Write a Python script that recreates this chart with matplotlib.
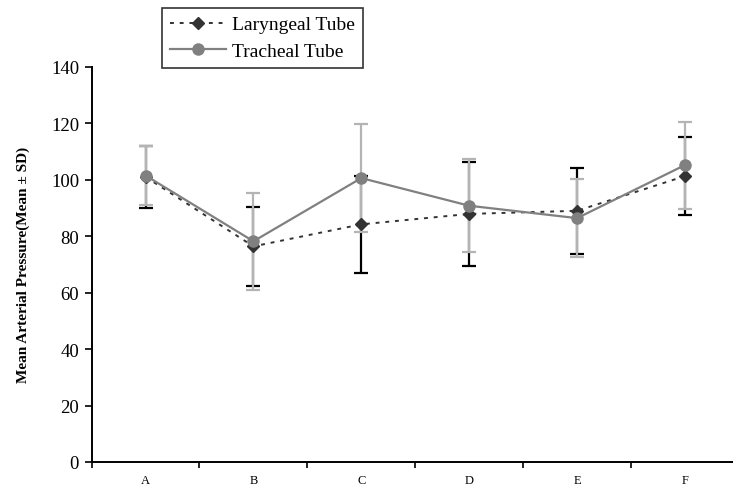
import matplotlib
matplotlib.use("Agg")
import matplotlib.pyplot as plt
import numpy as np

categories = ["A", "B", "C", "D", "E", "F"]
laryngeal_mean = [101.0, 76.4, 84.2, 87.9, 89.0, 101.3]
laryngeal_sd = [11.0, 14.0, 17.2, 18.4, 15.2, 13.9]
tracheal_mean = [101.5, 78.2, 100.6, 90.8, 86.4, 105.2]
tracheal_sd = [10.4, 17.2, 19.0, 16.5, 13.8, 15.4]
yticks = [0, 20, 40, 60, 80, 100, 120, 140]

plt.rcParams['font.family'] = ['Liberation Serif', 'DejaVu Serif']

fig = plt.figure(figsize=(7.33, 4.89), dpi=100)
ax = fig.add_axes([0.125, 0.0532, 0.883, 0.808])

x = np.arange(len(categories))

ax.errorbar(x, laryngeal_mean, yerr=laryngeal_sd, fmt='none', ecolor='black',
            elinewidth=1.6, capsize=5, capthick=1.6, zorder=2)
ax.errorbar(x, tracheal_mean, yerr=tracheal_sd, fmt='none', ecolor='#b4b4b4',
            elinewidth=1.6, capsize=5, capthick=1.6, zorder=3)
ax.plot(x, laryngeal_mean, linestyle=(0, (2, 3)), color='#333333', linewidth=1.4,
        marker='D', markersize=6.5, markerfacecolor='#333333', markeredgecolor='#333333',
        label='Laryngeal Tube', zorder=4)
ax.plot(x, tracheal_mean, linestyle='-', color='#808080', linewidth=1.6,
        marker='o', markersize=8, markerfacecolor='#808080', markeredgecolor='#808080',
        label='Tracheal Tube', zorder=5)

ax.set_xlim(-0.5, len(categories) - 0.5)
ax.set_ylim(0, 140)
ax.set_yticks(yticks)
ax.set_yticklabels([str(v) for v in yticks], fontsize=13.5)
ax.set_xticks(x)
ax.set_xticklabels(categories, fontsize=9)
ax.set_xticks(np.arange(-0.5, len(categories), 1.0), minor=True)
ax.tick_params(axis='x', which='major', length=0, pad=9)
ax.tick_params(axis='x', which='minor', length=4, width=1.2, direction='out')
ax.tick_params(axis='y', which='major', length=5, width=1.2, direction='out', pad=4)

for s in ['top', 'right']:
    ax.spines[s].set_visible(False)
for s in ['left', 'bottom']:
    ax.spines[s].set_linewidth(1.4)

ax.set_ylabel('Mean Arterial Pressure(Mean ± SD)', fontsize=11, fontweight='bold', labelpad=15)

leg = fig.legend(loc='upper left', bbox_to_anchor=(162 / 733, 1 - 9 / 489), fontsize=14,
                 frameon=True, fancybox=False, edgecolor='black', handlelength=2.9,
                 handletextpad=0.3, borderpad=0.4, labelspacing=0.45, borderaxespad=0)
leg.get_frame().set_linewidth(1.2)

fig.savefig('out.png', dpi=100)
